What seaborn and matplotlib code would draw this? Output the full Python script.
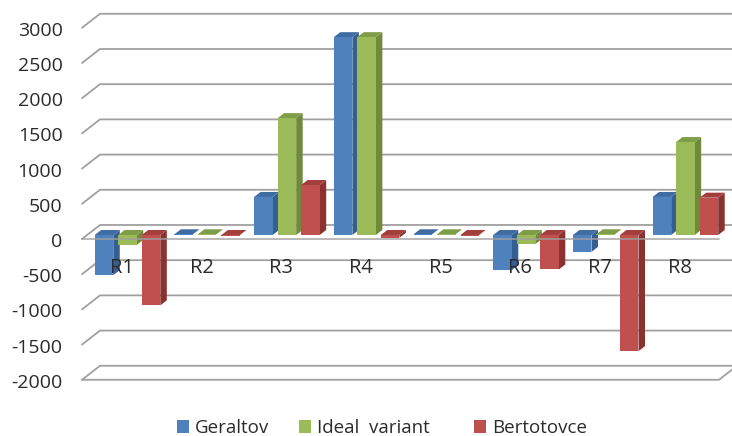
import matplotlib
matplotlib.use("Agg")
import matplotlib.pyplot as plt
import matplotlib.transforms as mtrans
from matplotlib.patches import Polygon
import pandas as pd
import seaborn as sns

# values
regions = ["R1", "R2", "R3", "R4", "R5", "R6", "R7", "R8"]
geraltov = [-570, 10, 540, 2810, 10, -500, -240, 540]
ideal = [-140, 10, 1660, 2810, 10, -130, 10, 1320]
bertotovce = [-1000, -20, 710, -40, -10, -490, -1650, 530]

series = ["Geraltov", "Ideal  variant", "Bertotovce"]
colors = ["#4F81BD", "#9BBB59", "#C0504D"]
side_colors = ["#355F91", "#6F8A3C", "#8A3230"]
top_colors = ["#3F6CA3", "#7F9C48", "#A23F3C"]
yticks = [3000, 2500, 2000, 1500, 1000, 500, 0, -500, -1000, -1500, -2000]

df = pd.DataFrame({
    "region": regions * 3,
    "series": [s for s in series for _ in regions],
    "value": geraltov + ideal + bertotovce,
})

sns.set_theme(style="white")
plt.rcParams["font.family"] = ["Open Sans", "DejaVu Sans"]

W, H = 732, 436
fig = plt.figure(figsize=(W / 100, H / 100), dpi=100)
# axes spans the front of the box up to the top back line, bars sit behind the front
ax = fig.add_axes([82 / W, 1 - 380 / H, (719 - 82) / W, 366 / H])

sns.barplot(data=df, x="region", y="value", hue="series", palette=colors,
            saturation=1, width=0.885, gap=0.21, ax=ax, errorbar=None,
            linewidth=0, zorder=3)

px_x = 79.7  # pixels per category
px_y = 0.0704  # pixels per unit


def x_of(px):
    return (px - 127.5) / px_x


# 3d look of the bars
dx = 6.5 / px_x
dy = 5 / px_y
for cont, side, top in zip(ax.containers, side_colors, top_colors):
    for bar in cont:
        x0, w, v = bar.get_x(), bar.get_width(), bar.get_height()
        hi = max(v, 0)
        ax.add_patch(Polygon([(x0, hi), (x0 + w, hi), (x0 + w + dx, hi + dy), (x0 + dx, hi + dy)],
                             fc=top, ec="none", zorder=2.8, clip_on=False))
        if abs(v) > 30:
            lo = min(v, 0)
            ax.add_patch(Polygon([(x0 + w, lo), (x0 + w + dx, lo + dy), (x0 + w + dx, hi + dy), (x0 + w, hi)],
                                 fc=side, ec="none", zorder=2.6, clip_on=False))

# box grid: back wall lines, left diagonals
grid = "#a0a0a0"
back = 10 / px_y
front = -4 / px_y
for v in yticks:
    ax.plot([x_of(82), x_of(100), x_of(740)], [v + front, v + back, v + back],
            color=grid, lw=1.3, zorder=1, clip_on=False)
ax.plot([x_of(82), x_of(719)], [front, front], color=grid, lw=1.3, alpha=0.8,
        zorder=4, clip_on=False)
ax.plot([x_of(82), x_of(719), x_of(737)], [-2000 + front, -2000 + front, -2000 + back],
        color=grid, lw=1.3, zorder=1, clip_on=False)

sns.despine(ax=ax, left=True, bottom=True)
ax.set_xlabel("")
ax.set_ylabel("")
ax.set_xticks([])
ax.set_yticks(yticks)
ax.set_yticklabels([str(v) for v in yticks], fontsize=14, color="#2b2b2b")
ax.tick_params(axis="y", length=0, pad=14)
ax.set_xlim((82 - 127.5) / px_x, (719 - 127.5) / px_x)
ax.set_ylim(-2060, 3139)
shift = mtrans.ScaledTranslation(0, -5 / 100, fig.dpi_scale_trans)
for lab in ax.get_yticklabels():
    lab.set_transform(lab.get_transform() + shift)

for i, r in enumerate(regions):
    ax.text(i - 0.07, -469, r, ha="center", va="center", fontsize=14.5,
            color="#2b2b2b", zorder=5)

ax.patch.set_alpha(0)
handles, labels = ax.get_legend_handles_labels()
labels[1] = labels[1] + "   "
ax.legend(handles, labels, ncol=3, frameon=False, loc="center",
          bbox_to_anchor=(382 / W, 1 - 428 / H), bbox_transform=fig.transFigure,
          fontsize=13.5, handlelength=0.64, handleheight=0.64, handletextpad=0.32,
          columnspacing=1.6, labelcolor="#2b2b2b")

fig.savefig("out.png", dpi=100)
